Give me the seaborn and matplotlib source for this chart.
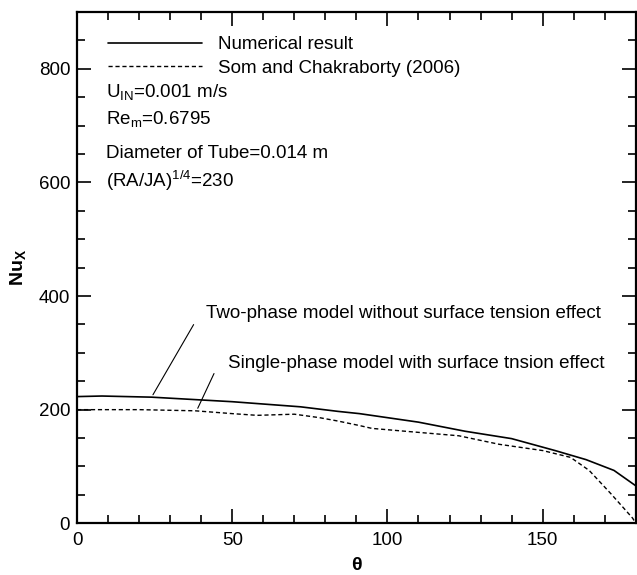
"""
Local Nusselt number along the tube circumference (theta)
"""

import matplotlib
matplotlib.use("Agg")
import matplotlib.pyplot as plt
from matplotlib.ticker import MultipleLocator
import seaborn as sns
import pandas as pd

# Numerical result (solid line)
theta_num = [0, 8, 24, 50, 72, 84, 91, 110, 125, 140, 154, 164, 173, 180]
nu_num = [223, 224, 222, 214, 205, 197, 193, 178, 162, 149, 128, 112, 93, 66]

# Som and Chakraborty (2006) (dashed line)
theta_som = [0, 20, 38, 50, 58, 70, 78, 84, 91, 95, 110, 123, 136, 150, 159, 165, 172, 179, 180]
nu_som = [200, 200, 198, 193, 190, 192, 186, 180, 172, 167, 160, 154, 139, 128, 116, 93, 52, 9, 0]

legend_labels = ["Numerical result", "Som and Chakraborty (2006)"]
param_lines = [
    r"U$_{\mathrm{IN}}$=0.001 m/s",
    r"Re$_{\mathrm{m}}$=0.6795",
    "Diameter of Tube=0.014 m",
    r"(RA/JA)$^{1/4}$=230",
]
note_two_phase = "Two-phase model without surface tension effect"
note_single_phase = "Single-phase model with surface tnsion effect"

FS = 13.5

sns.set_theme(style="ticks")
plt.rcParams["font.family"] = ["Liberation Sans", "DejaVu Sans"]
plt.rcParams["mathtext.fontset"] = "custom"
plt.rcParams["mathtext.rm"] = "Liberation Sans"
plt.rcParams["mathtext.it"] = "Liberation Sans:italic"
plt.rcParams["mathtext.bf"] = "Liberation Sans:bold"
plt.rcParams["text.color"] = "black"
plt.rcParams["axes.labelcolor"] = "black"

df_num = pd.DataFrame({"theta": theta_num, "Nu": nu_num})
df_som = pd.DataFrame({"theta": theta_som, "Nu": nu_som})

fig = plt.figure(figsize=(6.37, 5.75), dpi=100)
ax = fig.add_axes([0.121, 0.09, 0.877, 0.889])

sns.lineplot(data=df_num, x="theta", y="Nu", ax=ax, color="black",
             linewidth=1.2, label=legend_labels[0], sort=False)
sns.lineplot(data=df_som, x="theta", y="Nu", ax=ax, color="black",
             linewidth=1.0, linestyle=(0, (3, 2)), label=legend_labels[1], sort=False)

ax.set_xlim(0, 180)
ax.set_ylim(0, 900)
ax.xaxis.set_major_locator(MultipleLocator(50))
ax.xaxis.set_minor_locator(MultipleLocator(10))
ax.yaxis.set_major_locator(MultipleLocator(200))
ax.yaxis.set_minor_locator(MultipleLocator(50))
ax.tick_params(which="both", direction="in", top=True, right=True,
               width=1.2, colors="black", labelsize=FS)
ax.tick_params(which="major", length=10)
ax.tick_params(which="minor", length=6)
ax.tick_params(axis="y", pad=5)
ax.tick_params(axis="x", pad=6)
for sp in ax.spines.values():
    sp.set_linewidth(1.6)
    sp.set_color("black")

ax.set_xlabel("θ", fontsize=14, fontweight="bold", labelpad=6)
ax.set_ylabel(r"Nu$_{\mathbf{X}}$", fontsize=14, fontweight="bold", labelpad=8)

leg = ax.legend(loc="upper left", bbox_to_anchor=(0.055, 0.953), frameon=False,
                fontsize=FS, handlelength=5.0, handletextpad=0.9,
                labelspacing=0.35, borderpad=0, borderaxespad=0)

# case parameters
for txt, yv in zip(param_lines, [760, 712, 651, 602]):
    ax.text(9.3, yv, txt, fontsize=FS, va="center", ha="left")

# curve notes with leader lines
ax.text(41.7, 370, note_two_phase, fontsize=FS, va="center", ha="left")
ax.text(48.7, 281, note_single_phase, fontsize=FS, va="center", ha="left")
ax.annotate("", xy=(24, 222), xytext=(38, 354),
            arrowprops=dict(arrowstyle="-", lw=0.8, color="black"))
ax.annotate("", xy=(38.5, 198), xytext=(44.5, 268),
            arrowprops=dict(arrowstyle="-", lw=0.8, color="black"))

plt.savefig("out.png", dpi=100)
